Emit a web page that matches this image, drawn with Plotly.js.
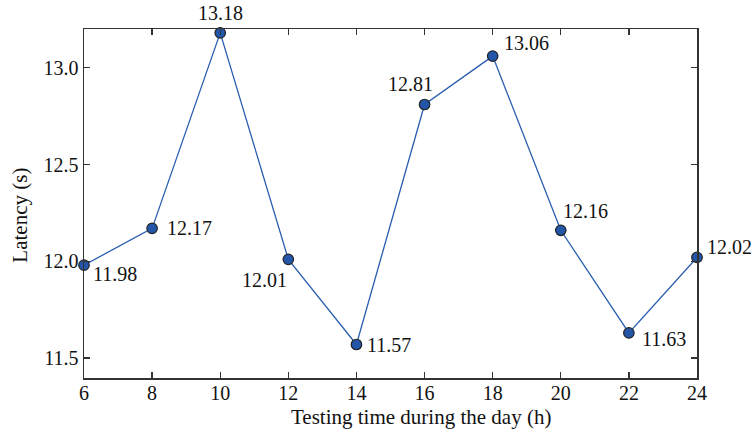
<!DOCTYPE html>
<html><head><meta charset="utf-8">
<script src="https://cdn.plot.ly/plotly-3.0.1.min.js"></script>
<style>html,body{margin:0;padding:0;background:#fff}</style>
</head><body>
<div id="chart" style="width:755px;height:435px"></div>
<script>
var hours = [6, 8, 10, 12, 14, 16, 18, 20, 22, 24];
var latency = [11.98, 12.17, 13.18, 12.01, 11.57, 12.81, 13.06, 12.16, 11.63, 12.02];
var labels = ['11.98', '12.17', '13.18', '12.01', '11.57', '12.81', '13.06', '12.16', '11.63', '12.02'];
var yTicks = [11.5, 12.0, 12.5, 13.0];
var yTickText = ['11.5', '12.0', '12.5', '13.0'];
var xTitle = 'Testing time during the day (h)';
var yTitle = 'Latency (s)';

// label placement (style only): anchor and pixel offsets from each marker
var lblAnchor = ['left', 'left', 'center', 'right', 'left', 'center', 'left', 'left', 'left', 'left'];
var lblDx = [8, 14, 0, 0, 10, -14, 10, 1, 12, 9];
var lblDy = [-9, 0, 20, -21, 0, 20, 13, 19, -6, 10];

var serif = '"Liberation Serif", "Times New Roman", Times, serif';
var axFont = {family: serif, size: 20, color: '#111'};
var titleFont = {family: serif, size: 21, color: '#111'};

var trace = {
  x: hours, y: latency, mode: 'lines+markers',
  line: {color: '#2a5db0', width: 1.3},
  marker: {size: 10.5, color: '#2356a8', line: {color: '#222', width: 1.2}},
  cliponaxis: false, hoverinfo: 'none'
};

var annotations = hours.map(function (h, i) {
  return {
    x: h, y: latency[i], xref: 'x', yref: 'y', text: labels[i], showarrow: false,
    xanchor: lblAnchor[i], yanchor: 'middle', xshift: lblDx[i], yshift: lblDy[i],
    font: axFont, borderpad: 0
  };
});
annotations.push({
  xref: 'paper', yref: 'paper', x: 0.55, y: -0.112, xanchor: 'center', yanchor: 'middle',
  text: xTitle, showarrow: false, font: titleFont, borderpad: 0
});
annotations.push({
  xref: 'paper', yref: 'paper', x: -0.105, y: 0.467, xanchor: 'center', yanchor: 'middle',
  text: yTitle, textangle: -90, showarrow: false, font: titleFont, borderpad: 0
});

var layout = {
  width: 755, height: 435,
  margin: {l: 84, r: 58, t: 29, b: 57},
  paper_bgcolor: '#fff', plot_bgcolor: '#fff',
  showlegend: false,
  font: axFont,
  annotations: annotations,
  xaxis: {
    range: [6, 24], tickvals: hours,
    ticks: 'inside', ticklen: 6, tickwidth: 1.3, tickcolor: '#333',
    showline: true, linecolor: '#333', linewidth: 1.5, mirror: 'ticks',
    showgrid: false, zeroline: false, tickfont: axFont, ticklabelstandoff: -4
  },
  yaxis: {
    range: [11.397, 13.2], tickvals: yTicks, ticktext: yTickText,
    ticks: 'inside', ticklen: 6, tickwidth: 1.3, tickcolor: '#333',
    showline: true, linecolor: '#333', linewidth: 1.5, mirror: 'ticks',
    showgrid: false, zeroline: false, tickfont: axFont
  }
};
Plotly.newPlot('chart', [trace], layout, {staticPlot: true, displayModeBar: false});
</script>
</body></html>
